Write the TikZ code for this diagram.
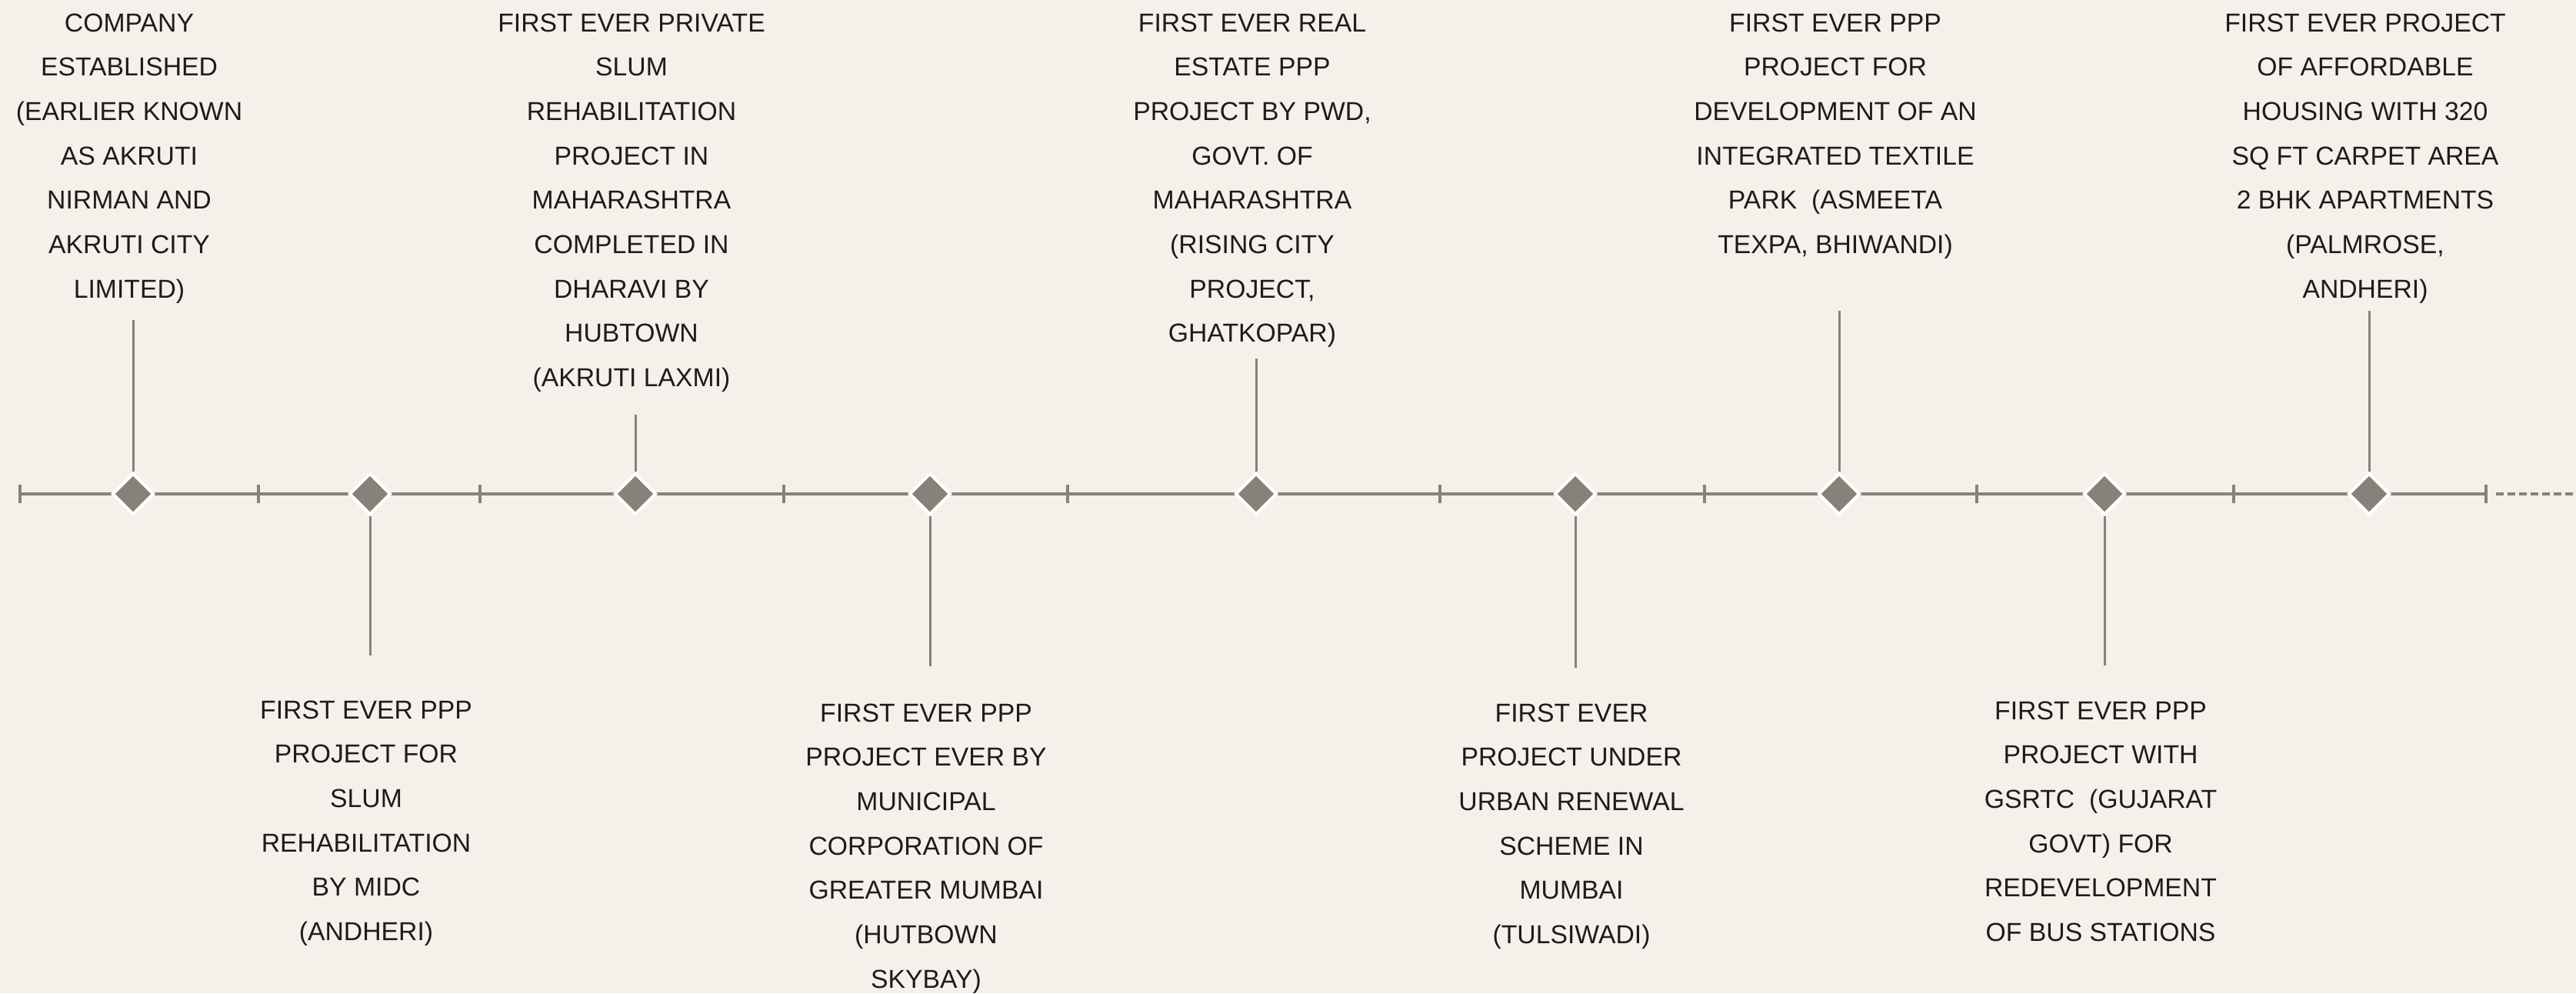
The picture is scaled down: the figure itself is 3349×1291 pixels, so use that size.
\documentclass[tikz,border=0pt]{standalone}
\usepackage{fontspec}
\setmainfont{Liberation Sans}
\usetikzlibrary{positioning,shapes.geometric}
\definecolor{paper}{RGB}{245,241,234}
\definecolor{stone}{RGB}{136,129,122}
\definecolor{ink}{RGB}{28,28,28}
\tikzset{
  milestone/.style={diamond,aspect=1,inner sep=0pt,minimum size=5.4mm,
    fill=stone,draw=white,line width=0.4mm},
  stem/.style={draw=stone,line width=0.3mm},
  axisline/.style={draw=stone,line width=0.47mm},
  tickmark/.style={draw=stone,line width=0.35mm},
  note/.style={align=center,inner sep=0pt,text=ink,xshift=-0.5mm,
    font=\fontsize{9.6}{16.4}\selectfont}
}
\begin{document}
\begin{tikzpicture}[x=0.1mm,y=-0.1mm]
  \useasboundingbox (0,0) rectangle (3349,1291);
  \fill[paper] (0,0) rectangle (3349,1291);
  % time line
  \coordinate (start) at (26,642);
  \coordinate (end) at (3232,642);
  \coordinate (fade) at (3245,642);
  \coordinate (beyond) at (3349,642);
  \draw[axisline] (start) -- (end);
  \draw[axisline,dash pattern=on 0.95mm off 0.55mm] (fade) -- (beyond);
  \foreach \x in {26,336,624,1019,1388,1872,2216,2570,2904,3232}
    \draw[tickmark] (\x,630) -- (\x,654);
  % milestones
  \foreach \x [count=\i] in {173,481,826,1209,1633,2048,2391,2736,3080}
    \node[milestone] (d\i) at (\x,642) {};
  \foreach \i/\x/\y in {1/173/416,2/481/852,3/826/539,4/1209/866,5/1633/466,
                        6/2048/868,7/2391/404,8/2736/865,9/3080/404} {
    \coordinate (s\i) at (\x,\y);
    \draw[stem] (d\i) -- (s\i);
  }
  % texts above the line
  \node[note,anchor=north] (t1) at (173,17) {COMPANY\\ESTABLISHED\\(EARLIER KNOWN\\AS AKRUTI\\NIRMAN AND\\AKRUTI CITY\\LIMITED)};
  \node[note,anchor=north] (t3) at (826,17) {FIRST EVER PRIVATE\\SLUM\\REHABILITATION\\PROJECT IN\\MAHARASHTRA\\COMPLETED IN\\DHARAVI BY\\HUBTOWN\\(AKRUTI LAXMI)};
  \node[note,anchor=north] (t5) at (1633,17) {FIRST EVER REAL\\ESTATE PPP\\PROJECT BY PWD,\\GOVT. OF\\MAHARASHTRA\\(RISING CITY\\PROJECT,\\GHATKOPAR)};
  \node[note,anchor=north] (t7) at (2391,17) {FIRST EVER PPP\\PROJECT FOR\\DEVELOPMENT OF AN\\INTEGRATED TEXTILE\\PARK\ \ (ASMEETA\\TEXPA, BHIWANDI)};
  \node[note,anchor=north] (t9) at (3080,17) {FIRST EVER PROJECT\\OF AFFORDABLE\\HOUSING WITH 320\\SQ FT CARPET AREA\\2 BHK APARTMENTS\\(PALMROSE,\\ANDHERI)};
  % texts below the line
  \node[note,below=5.8mm of s2] (t2) {FIRST EVER PPP\\PROJECT FOR\\SLUM\\REHABILITATION\\BY MIDC\\(ANDHERI)};
  \node[note,below=4.8mm of s4] (t4) {FIRST EVER PPP\\PROJECT EVER BY\\MUNICIPAL\\CORPORATION OF\\GREATER MUMBAI\\(HUTBOWN\\SKYBAY)};
  \node[note,below=4.6mm of s6] (t6) {FIRST EVER\\PROJECT UNDER\\URBAN RENEWAL\\SCHEME IN\\MUMBAI\\(TULSIWADI)};
  \node[note,below=4.6mm of s8] (t8) {FIRST EVER PPP\\PROJECT WITH\\GSRTC\ \ (GUJARAT\\GOVT) FOR\\REDEVELOPMENT\\OF BUS STATIONS};
\end{tikzpicture}
\end{document}
